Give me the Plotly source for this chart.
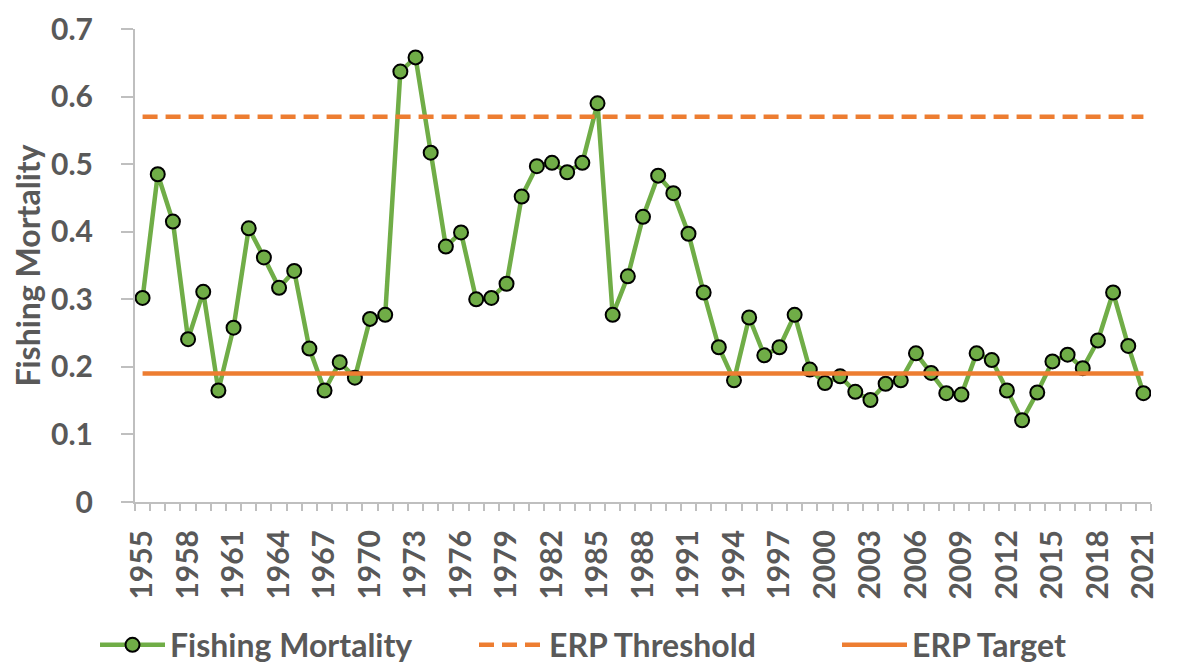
import plotly.graph_objects as go

years = list(range(1955, 2022))
fishing_mortality = [
    0.302, 0.485, 0.415, 0.241, 0.311, 0.165, 0.258, 0.405, 0.362, 0.317,
    0.342, 0.227, 0.165, 0.207, 0.184, 0.271, 0.277, 0.637, 0.658, 0.517,
    0.378, 0.399, 0.300, 0.302, 0.323, 0.452, 0.497, 0.502, 0.488, 0.502,
    0.590, 0.277, 0.334, 0.422, 0.483, 0.457, 0.397, 0.310, 0.229, 0.180,
    0.273, 0.217, 0.229, 0.277, 0.196, 0.176, 0.186, 0.163, 0.151, 0.175,
    0.180, 0.220, 0.191, 0.161, 0.159, 0.220, 0.210, 0.165, 0.121, 0.162,
    0.208, 0.218, 0.198, 0.239, 0.310, 0.231, 0.161,
]
erp_threshold = 0.57
erp_target = 0.19
label_years = list(range(1955, 2022, 3))
y_ticks = [0, 0.1, 0.2, 0.3, 0.4, 0.5, 0.6, 0.7]
y_tick_labels = ["0", "0.1", "0.2", "0.3", "0.4", "0.5", "0.6", "0.7"]

GREEN = "#70AD47"
ORANGE = "#ED7D31"
TEXT = "#595959"
AXIS = "#BFBFBF"
FONT = "Lato"

fig = go.Figure()
fig.add_trace(go.Scatter(
    x=years, y=fishing_mortality, name="Fishing Mortality",
    mode="lines+markers", legend="legend",
    line=dict(color=GREEN, width=4.5),
    marker=dict(size=14, color=GREEN, line=dict(color="#000000", width=2)),
))
fig.add_trace(go.Scatter(
    x=years, y=[erp_threshold] * len(years), name="ERP Threshold",
    mode="lines", legend="legend2",
    line=dict(color=ORANGE, width=4.5, dash="15px,8px"),
))
fig.add_trace(go.Scatter(
    x=years, y=[erp_target] * len(years), name="ERP Target",
    mode="lines", legend="legend3",
    line=dict(color=ORANGE, width=4.5),
))

def leg(xpix):
    return dict(
        orientation="h", xref="container", yref="container",
        x=xpix / 1178, xanchor="left", y=(671 - 637) / 671, yanchor="middle",
        font=dict(family=FONT, size=32, color=TEXT, weight="bold"),
        itemwidth=65, bgcolor="rgba(0,0,0,0)",
    )

fig.update_layout(
    width=1178, height=671,
    paper_bgcolor="white", plot_bgcolor="white",
    margin=dict(l=127, r=35, t=21, b=177),
    font=dict(family=FONT, color=TEXT),
    showlegend=True,
    legend=leg(87),
    legend2=leg(466),
    legend3=leg(829),
)
fig.update_xaxes(
    range=[1954.5, 2021.5], automargin=False,
    tickmode="array", tickvals=label_years, ticktext=[str(y) for y in label_years],
    tickangle=-90, ticks="", ticklabelstandoff=14, ticklabeloverflow="allow",
    tickfont=dict(family=FONT, size=30, color=TEXT, weight="bold"),
    showline=True, linecolor=AXIS, linewidth=2,
    showgrid=False, zeroline=False,
    minor=dict(tick0=1954.5, dtick=1, ticks="outside", ticklen=7,
               tickcolor=AXIS, tickwidth=2, showgrid=False),
)
fig.update_yaxes(
    range=[0, 0.7], automargin=False,
    tickmode="array", tickvals=y_ticks, ticktext=y_tick_labels,
    ticks="outside", ticklen=12, tickcolor=AXIS, tickwidth=2,
    ticklabelstandoff=22, ticklabeloverflow="allow",
    tickfont=dict(family=FONT, size=30, color=TEXT, weight="bold"),
    showline=True, linecolor=AXIS, linewidth=2,
    showgrid=False, zeroline=False,
    title=dict(text="Fishing Mortality", standoff=3,
               font=dict(family=FONT, size=32, color=TEXT, weight="bold")),
)

fig.write_html("out.html")
